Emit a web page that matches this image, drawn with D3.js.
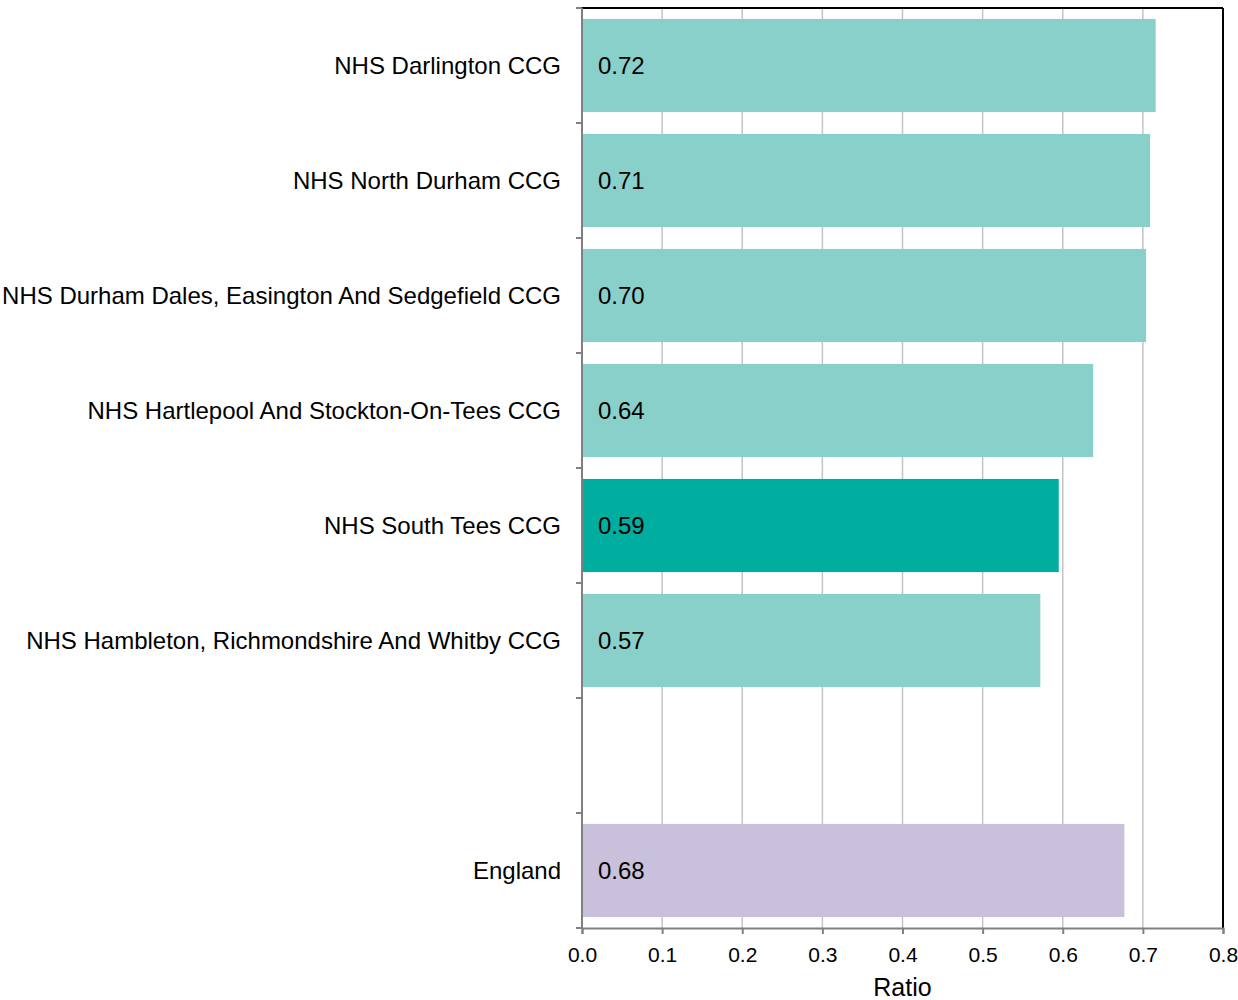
<!DOCTYPE html>
<html>
<head>
<meta charset="utf-8">
<script src="https://cdn.jsdelivr.net/npm/d3@7"></script>
<style>
  html, body { margin: 0; padding: 0; background: #fff; }
  svg { display: block; font-family: "Liberation Sans", Arial, sans-serif; }
</style>
</head>
<body>
<svg id="chart" width="1238" height="1000"></svg>
<script>
const categories = [
  "NHS Darlington CCG",
  "NHS North Durham CCG",
  "NHS Durham Dales, Easington And Sedgefield CCG",
  "NHS Hartlepool And Stockton-On-Tees CCG",
  "NHS South Tees CCG",
  "NHS Hambleton, Richmondshire And Whitby CCG",
  "",
  "England"
];
const values = [0.716, 0.709, 0.704, 0.638, 0.595, 0.572, null, 0.677];
const valueLabels = ["0.72", "0.71", "0.70", "0.64", "0.59", "0.57", "", "0.68"];
const barKinds = ["peer", "peer", "peer", "peer", "highlight", "peer", "none", "england"];
const xTicks = [0, 0.1, 0.2, 0.3, 0.4, 0.5, 0.6, 0.7, 0.8];
const xTitle = "Ratio";

(function () {
const colors = { peer: "#8AD0CA", highlight: "#00AEA0", england: "#C9C1DB" };

const svg = d3.select("#chart");
const pLeft = 582, pRight = 1223, pTop = 8, pBottom = 928;

const keys = categories.map((c, i) => i);
const x = d3.scaleLinear().domain([0, 0.8]).range([pLeft, pRight]);
const y = d3.scaleBand().domain(keys).range([pTop, pBottom]).paddingInner(0.19).paddingOuter(0.095);

// gridlines
svg.append("g").selectAll("line")
  .data(xTicks.filter(t => t > 0 && t < 0.8))
  .join("line")
  .attr("x1", d => x(d)).attr("x2", d => x(d))
  .attr("y1", pTop).attr("y2", pBottom)
  .attr("stroke", "#c4c4c4").attr("stroke-width", 1.5);

// bars
const rows = keys.map(i => ({ i, cat: categories[i], v: values[i], lab: valueLabels[i], kind: barKinds[i] }))
  .filter(d => d.v !== null);

svg.append("g").selectAll("rect")
  .data(rows)
  .join("rect")
  .attr("x", x(0) + 1)
  .attr("y", d => y(d.i))
  .attr("width", d => x(d.v) - x(0) - 1)
  .attr("height", y.bandwidth())
  .attr("fill", d => colors[d.kind]);

// value labels
svg.append("g").selectAll("text")
  .data(rows)
  .join("text")
  .attr("x", x(0) + 16)
  .attr("y", d => y(d.i) + y.bandwidth() / 2)
  .attr("dy", "0.36em")
  .attr("font-size", 24)
  .attr("fill", "#000")
  .text(d => d.lab);

// frame: top and right black
svg.append("line").attr("x1", pLeft).attr("x2", pRight).attr("y1", pTop).attr("y2", pTop)
  .attr("stroke", "#000").attr("stroke-width", 2);
svg.append("line").attr("x1", pRight).attr("x2", pRight).attr("y1", pTop).attr("y2", pBottom)
  .attr("stroke", "#000").attr("stroke-width", 2);

// y axis (slot boundaries as ticks)
const boundaries = d3.range(categories.length + 1).map(k => pTop + k * (pBottom - pTop) / categories.length);
const yAxisG = svg.append("g");
yAxisG.append("line").attr("x1", pLeft).attr("x2", pLeft).attr("y1", pTop).attr("y2", pBottom)
  .attr("stroke", "#808080").attr("stroke-width", 2);
yAxisG.selectAll("line.tick").data(boundaries).join("line").attr("class", "tick")
  .attr("x1", pLeft - 6).attr("x2", pLeft).attr("y1", d => d).attr("y2", d => d)
  .attr("stroke", "#808080").attr("stroke-width", 2);

// category labels
svg.append("g").selectAll("text")
  .data(keys.filter(i => categories[i] !== ""))
  .join("text")
  .attr("x", pLeft - 21)
  .attr("y", i => y(i) + y.bandwidth() / 2)
  .attr("dy", "0.36em")
  .attr("text-anchor", "end")
  .attr("font-size", 24)
  .attr("fill", "#000")
  .text(i => categories[i]);

// x axis
const xAxis = d3.axisBottom(x).tickValues(xTicks).tickFormat(d3.format(".1f")).tickSize(6).tickPadding(0);
const xg = svg.append("g").attr("transform", `translate(0,${pBottom})`).call(xAxis);
xg.select(".domain").attr("stroke", "#808080").attr("stroke-width", 2);
xg.selectAll(".tick line").attr("stroke", "#808080").attr("stroke-width", 2);
xg.selectAll(".tick text").attr("font-size", 21).attr("fill", "#000")
  .attr("y", 34).attr("dy", null)
  .attr("font-family", "Liberation Sans, Arial, sans-serif");

svg.append("text")
  .attr("x", (pLeft + pRight) / 2)
  .attr("y", 996)
  .attr("text-anchor", "middle")
  .attr("font-size", 25)
  .attr("fill", "#000")
  .text(xTitle);
})();
</script>
</body>
</html>
